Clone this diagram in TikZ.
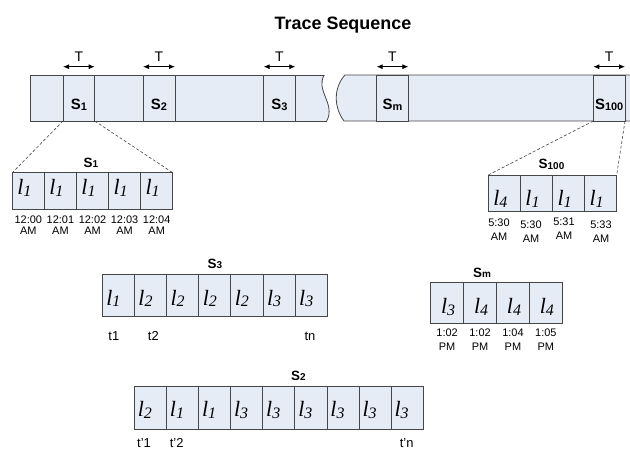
\documentclass[tikz,border=0pt]{standalone}
\usepackage{fontspec}
\setmainfont{Liberation Sans}
\newfontfamily\serifit{Liberation Serif}
\usetikzlibrary{arrows.meta}
\definecolor{cellfill}{RGB}{230,236,246}
\definecolor{cellline}{RGB}{70,70,70}
\newcommand{\lsym}[1]{{\serifit\itshape\fontsize{22}{22}\selectfont l\raisebox{-1.7bp}{\fontsize{16}{16}\selectfont #1}}}
\newcommand{\barS}[1]{{\bfseries\fontsize{15}{15}\selectfont S\raisebox{-0.6bp}{\fontsize{11}{11}\selectfont #1}}}
\newcommand{\grpS}[1]{{\bfseries\fontsize{13.5}{13.5}\selectfont S\raisebox{-0.6bp}{\fontsize{10}{10}\selectfont #1}}}
\tikzset{
  cell/.style={draw=cellline, fill=cellfill, line width=0.8bp, inner sep=0pt, outer sep=0pt, anchor=north west},
  barline/.style={draw=cellline, line width=0.8bp},
  dashline/.style={draw=cellline, line width=0.6bp, dash pattern=on 3bp off 2bp},
  tarrow/.style={{Latex[length=6bp,width=5bp]}-{Latex[length=6bp,width=5bp]}, line width=0.8bp, draw=black},
  sym/.style={inner sep=0pt, anchor=base},
  tlab/.style={inner sep=0pt, anchor=base, font=\fontsize{11}{11}\selectfont},
  plab/.style={inner sep=0pt, anchor=base, font=\fontsize{13}{13}\selectfont},
  glab/.style={inner sep=0pt, anchor=base}
}
\begin{document}
\begin{tikzpicture}[x=1bp,y=-1bp]
\useasboundingbox (0,0) rectangle (630,449);
% title
\node[anchor=base, inner sep=0pt, font=\bfseries\fontsize{18}{18}\selectfont] (title) at (343,30) {Trace Sequence};
% bar, left piece
\fill[cellfill] (30,75) -- (324.3,75) .. controls (315,90) and (336,104) .. (326.7,121) -- (30,121) -- cycle;
\draw[barline] (324.3,75) -- (30,75) -- (30,121) -- (326.7,121);
\draw[barline] (324.3,75) .. controls (315,90) and (336,104) .. (326.7,121);
% bar, right piece
\fill[cellfill] (632,75) -- (345,75) .. controls (333,88) and (334,108) .. (344,121) -- (632,121) -- cycle;
\draw[barline] (632,75) -- (345,75) .. controls (333,88) and (334,108) .. (344,121) -- (632,121);
% bar cells
\foreach \n/\x/\w/\s in {s1/63/31.7/1, s2/143/32/2, s3/263.7/31.6/3, sm/376.7/31.6/m, s100/593.3/31.7/100} {
  \node[cell, minimum width=\w bp, minimum height=46bp] (\n) at (\x,75) {};
  \node[glab] (\n-lab) at ([yshift=11bp]\n.south) {\barS{\s}};
  \draw[tarrow] ([yshift=8.3bp]\n.north west) -- ([yshift=8.3bp]\n.north east)
    node[midway, anchor=base, inner sep=0pt, yshift=5bp, font=\fontsize{14}{14}\selectfont] (\n-T) {T};
}
% S1 expansion
\foreach \v [count=\i from 0] in {1,1,1,1,1} {
  \node[cell, minimum width=32.08bp, minimum height=36.3bp] (e1-\i) at ({12.3+32.08*\i},172.7) {};
  \node[sym] (e1s-\i) at ([xshift=-4bp,yshift=14bp]e1-\i.south) {\lsym{\v}};
}
\foreach \t [count=\i from 0] in {12:00,12:01,12:02,12:03,12:04} {
  \node[tlab] (e1t-\i) at ([yshift=-15bp]e1-\i.south) {\t};
  \node[tlab] (e1a-\i) at ([yshift=-25.7bp]e1-\i.south) {AM};
}
\node[glab] (e1lab) at (90.8,167.3) {\grpS{1}};
\draw[dashline] (s1.south west) -- (e1-0.north west);
\draw[dashline] (s1.south east) -- (e1-4.north east);
% S100 expansion
\foreach \v [count=\i from 0] in {4,1,1,1} {
  \node[cell, minimum width=32.1bp, minimum height=36.7bp] (e100-\i) at ({488.3+32.1*\i},175) {};
  \node[sym] (e100s-\i) at ([xshift=-4bp,yshift=5.7bp]e100-\i.south) {\lsym{\v}};
}
\foreach \x/\t/\d [count=\i from 0] in {499/5:30/0, 531/5:30/1.7, 564/5:31/-1, 601/5:33/1.7} {
  \node[tlab] (e100t-\i) at (\x,{226.7+\d}) {\t};
  \node[tlab] (e100a-\i) at (\x,{241+\d}) {AM};
}
\node[glab] (e100lab) at (551.5,168.5) {\grpS{100}};
\draw[dashline] (s100.south west) -- (e100-0.north west);
\draw[dashline] (s100.south east) -- (e100-3.north east);
% S3 row
\foreach \v [count=\i from 0] in {1,2,2,2,2,3,3} {
  \node[cell, minimum width=32.14bp, minimum height=42bp] (e3-\i) at ({102.3+32.14*\i},274) {};
  \node[sym] (e3s-\i) at ([xshift=-5bp,yshift=11bp]e3-\i.south) {\lsym{\v}};
}
\node[glab] (e3lab) at (215,268.3) {\grpS{3}};
\node[plab] (t1) at (113.8,340.7) {t1};
\node[plab] (t2) at (153.3,340.7) {t2};
\node[plab] (tn) at (310,340.7) {tn};
% Sm row
\foreach \v [count=\i from 0] in {3,4,4,4} {
  \node[cell, minimum width=32.9bp, minimum height=41bp] (em-\i) at ({430.7+32.9*\i},282.3) {};
  \node[sym] (ems-\i) at ([xshift=1bp,yshift=10bp]em-\i.south) {\lsym{\v}};
}
\foreach \t [count=\i from 0] in {1:02,1:02,1:04,1:05} {
  \node[tlab] (emt-\i) at ([yshift=-13.4bp]em-\i.south) {\t};
  \node[tlab] (ema-\i) at ([yshift=-27.4bp]em-\i.south) {PM};
}
\node[glab] (emlab) at (482,277.3) {\grpS{m}};
% S2 row
\foreach \v [count=\i from 0] in {2,1,1,3,3,3,3,3,3} {
  \node[cell, minimum width=32.1bp, minimum height=43bp] (e2-\i) at ({134.3+32.1*\i},386) {};
  \node[sym] (e2s-\i) at ([xshift=-5.5bp,yshift=12.3bp]e2-\i.south) {\lsym{\v}};
}
\node[glab] (e2lab) at (298.3,380) {\grpS{2}};
\node[plab] (tp1) at (144,447.5) {t'1};
\node[plab] (tp2) at (176.7,447.5) {t'2};
\node[plab] (tpn) at (406.7,447.5) {t'n};
\end{tikzpicture}
\end{document}
